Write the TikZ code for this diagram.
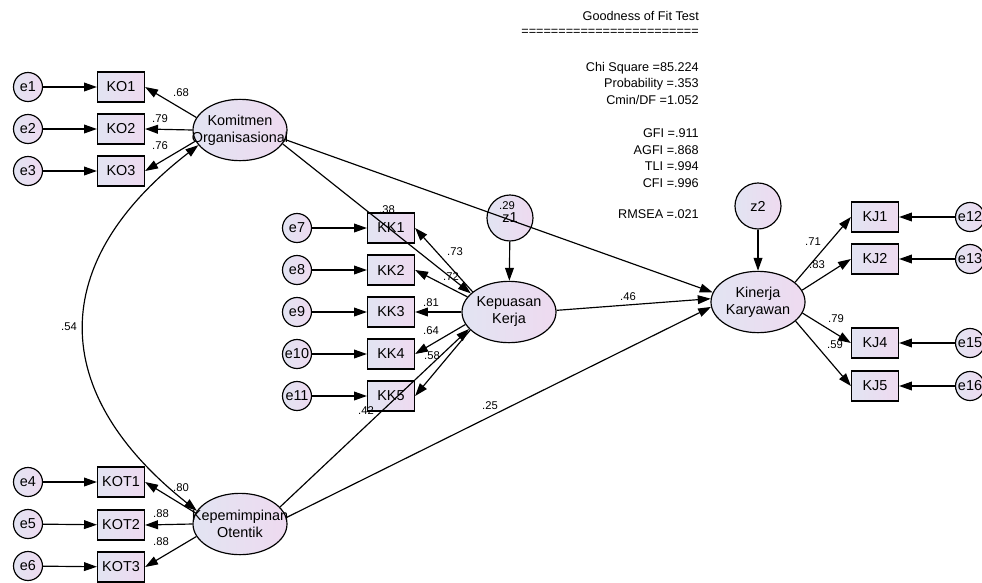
\documentclass[tikz,border=0pt]{standalone}
\usepackage{fontspec}
\setmainfont{Liberation Sans}
\usetikzlibrary{shapes,arrows.meta,positioning,calc}
\definecolor{fillA}{RGB}{226,228,242}
\definecolor{fillB}{RGB}{238,218,240}

\begin{document}
\begin{tikzpicture}[x=0.03cm,y=-0.03cm,
    every node/.style={font=\fontsize{12.3}{14.5}\selectfont},
    err/.style={circle,draw,line width=1pt,left color=fillA,right color=fillB,minimum size=0.87cm,inner sep=0pt},
    ind/.style={rectangle,draw,line width=1pt,left color=fillA,right color=fillB,minimum width=1.41cm,minimum height=0.9cm,inner sep=0pt},
    lat/.style={ellipse,draw,line width=1pt,left color=fillA,right color=fillB,minimum width=2.82cm,minimum height=1.84cm,inner sep=0pt,align=center},
    dist/.style={circle,draw,line width=1pt,left color=fillA,right color=fillB,minimum size=1.38cm,inner sep=0pt},
    est/.style={font=\fontsize{9.6}{11}\selectfont,inner sep=0pt},
    fit/.style={font=\fontsize{10.8}{12}\selectfont,anchor=east,inner sep=0pt},
    arr/.style={line width=1pt,-{Triangle[length=11pt,width=7.5pt]}},
    covarr/.style={line width=1pt,{Triangle[length=11pt,width=7.5pt]}-{Triangle[length=11pt,width=7.5pt]}}]
    \useasboundingbox (0,0) rectangle (982,582);

    % Komitmen Organisasional
    \node[err] (e1) at (28,87) {e1};
    \node[err] (e2) at (28,129) {e2};
    \node[err] (e3) at (28,171) {e3};
    \node[ind] (KO1) at (121,87) {KO1};
    \node[ind] (KO2) at (121,129) {KO2};
    \node[ind] (KO3) at (121,171) {KO3};
    \node[lat] (KO) at (240,130) {\makebox[0pt]{Komitmen}\\\makebox[0pt]{Organisasional}};

    % Kepemimpinan Otentik
    \node[err] (e4) at (28,482) {e4};
    \node[err] (e5) at (28,524) {e5};
    \node[err] (e6) at (28,566) {e6};
    \node[ind] (KOT1) at (121,482) {KOT1};
    \node[ind] (KOT2) at (121,525) {KOT2};
    \node[ind] (KOT3) at (121,567) {KOT3};
    \node[lat] (KP) at (240,524) {\makebox[0pt]{Kepemimpinan}\\\makebox[0pt]{Otentik}};

    % Kepuasan Kerja
    \node[err] (e7) at (297,228) {e7};
    \node[err] (e8) at (297,270) {e8};
    \node[err] (e9) at (297,312) {e9};
    \node[err] (e10) at (297,354) {e10};
    \node[err] (e11) at (297,396) {e11};
    \node[ind] (KK1) at (391,228) {KK1};
    \node[ind] (KK2) at (391,270) {KK2};
    \node[ind] (KK3) at (391,312) {KK3};
    \node[ind] (KK4) at (391,354) {KK4};
    \node[ind] (KK5) at (391,396) {KK5};
    \node[lat] (KK) at (509,312) {\makebox[0pt]{Kepuasan}\\\makebox[0pt]{Kerja}};
    \node[dist] (z1) at (510,218) {z1};

    % Kinerja Karyawan
    \node[lat] (KJ) at (758,302) {\makebox[0pt]{Kinerja}\\\makebox[0pt]{Karyawan}};
    \node[dist] (z2) at (758,206) {z2};
    \node[ind] (KJ1) at (875,217) {KJ1};
    \node[ind] (KJ2) at (875,259) {KJ2};
    \node[ind] (KJ4) at (875,343) {KJ4};
    \node[ind] (KJ5) at (875,386) {KJ5};
    \node[err] (e12) at (970,217) {e12};
    \node[err] (e13) at (970,259) {e13};
    \node[err] (e15) at (970,343) {e15};
    \node[err] (e16) at (970,386) {e16};

    % Error terms
    \draw[arr] (e1) -- (KO1);
    \draw[arr] (e2) -- (KO2);
    \draw[arr] (e3) -- (KO3);
    \draw[arr] (e4) -- (KOT1);
    \draw[arr] (e5) -- (KOT2);
    \draw[arr] (e6) -- (KOT3);
    \draw[arr] (e7) -- (KK1);
    \draw[arr] (e8) -- (KK2);
    \draw[arr] (e9) -- (KK3);
    \draw[arr] (e10) -- (KK4);
    \draw[arr] (e11) -- (KK5);
    \draw[arr] (e12) -- (KJ1);
    \draw[arr] (e13) -- (KJ2);
    \draw[arr] (e15) -- (KJ4);
    \draw[arr] (e16) -- (KJ5);

    % Loadings
    \draw[arr] (KO.164) -- (KO1.east);
    \draw[arr] (KO.180) -- (KO2.east);
    \draw[arr] (KO.194) -- (KO3.east);
    \draw[arr] (KP.166) -- (KOT1.east);
    \draw[arr] (KP.180) -- (KOT2.east);
    \draw[arr] (KP.196) -- (KOT3.east);
    \draw[arr] (KK.151) -- (KK1.east);
    \draw[arr] (KK.160) -- (KK2.east);
    \draw[arr] (KK.180) -- (KK3.east);
    \draw[arr] (KK.196) -- (KK4.east);
    \draw[arr] (KK.205) -- (KK5.east);
    \draw[arr] (KJ.28) -- (KJ1.west);
    \draw[arr] (KJ.15) -- (KJ2.west);
    \draw[arr] (KJ.-14) -- (KJ4.west);
    \draw[arr] (KJ.-27) -- (KJ5.west);

    % Structural paths
    \draw[arr] (KO.-18) -- (KK.154);
    \draw[arr] (KO.-12) -- (KJ.168);
    \draw[arr] (KP.23) -- (KK.203);
    \draw[arr] (KP.8) -- (KJ.186);
    \draw[arr] (KK.2) -- (KJ.176);
    \draw[arr] (z1) -- (KK);
    \draw[arr] (z2) -- (KJ);

    % Covariance
    \draw[covarr] (KO.200) .. controls (47,262) and (47,392) .. (KP.163);

    % Estimates
    \node[est] (wKO1) at (181,93) {.68};
    \node[est] (wKO2) at (160,119) {.79};
    \node[est] (wKO3) at (160,146) {.76};
    \node[est] (cov) at (69,327) {.54};
    \node[est] (wKOT1) at (181,488) {.80};
    \node[est] (wKOT2) at (161,514) {.88};
    \node[est] (wKOT3) at (161,542) {.88};
    \node[est] (rKK1) at (387,210) {.38};
    \node[est] (wKK1) at (455,252) {.73};
    \node[est] (wKK2) at (451,277) {.72};
    \node[est] (wKK3) at (431,303) {.81};
    \node[est] (wKK4) at (431,331) {.64};
    \node[est] (wKK5) at (432,356) {.58};
    \node[est] (rKK5) at (366,411) {.42};
    \node[est] (rKK) at (507,206) {.29};
    \node[est] (bKK) at (628,297) {.46};
    \node[est] (bKP) at (490,406) {.25};
    \node[est] (wKJ1) at (813,242) {.71};
    \node[est] (wKJ2) at (817,265) {.83};
    \node[est] (wKJ4) at (836,319) {.79};
    \node[est] (wKJ5) at (835,345) {.59};

    % Goodness of fit
    \node[fit] (gof) at (699,16) {Goodness of Fit Test};
    \node[fit] (eqs) at (699,32) {========================};
    \node[fit] (chi) at (699,68) {Chi Square =85.224};
    \node[fit] (prob) at (699,84) {Probability =.353};
    \node[fit] (cmin) at (699,100) {Cmin/DF =1.052};
    \node[fit] (gfi) at (699,133) {GFI =.911};
    \node[fit] (agfi) at (699,150) {AGFI =.868};
    \node[fit] (tli) at (699,166) {TLI =.994};
    \node[fit] (cfi) at (699,183) {CFI =.996};
    \node[fit] (rmsea) at (699,214) {RMSEA =.021};
\end{tikzpicture}
\end{document}
